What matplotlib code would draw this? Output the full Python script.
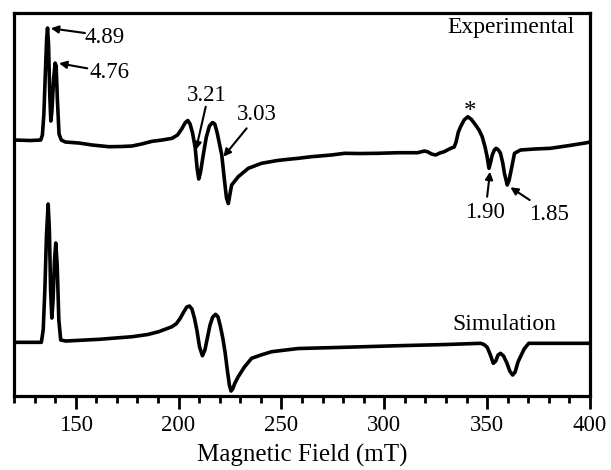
import matplotlib
matplotlib.use("Agg")
import matplotlib.pyplot as plt
from matplotlib.ticker import MultipleLocator

plt.rcParams['font.family'] = ['Liberation Serif', 'DejaVu Serif']

# Experimental spectrum (field in mT, intensity in arbitrary units)
exp_field = [120, 128, 133.0, 133.8, 134.5, 135.3, 135.9, 136.3, 136.8, 137.4, 137.9, 138.4,
             139.3, 140.0, 140.5, 141.1, 141.9, 143.0, 145, 151.6, 158, 166.2, 172, 177.4,
             182, 187.1, 192, 196.8, 199.5, 201.5, 203.3, 204.5, 205.6, 206.8, 208.1, 209.0,
             209.8, 210.7, 212.0, 213.5, 215.0, 216.5, 217.6, 218.8, 221.0, 222.3, 223.3,
             224.2, 225.0, 225.8, 229.0, 233.9, 240.3, 248, 253.2, 258.1, 264.5, 274.1,
             280.7, 288, 296.8, 306.5, 312.9, 316.2, 319.5, 321.0, 323.0, 325.0, 327.0,
             329.1, 332.3, 334.0, 334.9, 336.0, 337.1, 338.8, 340.6, 342.4, 344.4, 346.2,
             347.6, 349.0, 350.0, 350.9, 351.7, 352.5, 353.5, 354.4, 355.5, 356.5, 357.6,
             358.4, 359.8, 360.7, 361.7, 363.3, 366.2, 373, 380.7, 390, 398.5, 400]
exp_signal = [256, 255.5, 256, 261, 281, 326, 358, 368, 351, 301, 275, 284,
              318, 333, 330, 296, 262, 256, 254, 253, 251, 249.3, 249.5, 250,
              252, 254.7, 256, 257.7, 261, 267, 273.5, 275.5, 272, 263, 248, 228,
              217, 224, 241, 259, 270, 273.5, 272, 263, 241, 216, 198,
              192.5, 202, 211, 219.3, 227.7, 232.7, 235.5, 236.7, 237.7, 239.3, 241,
              242.7, 242.5, 242.7, 243.3, 243.3, 243.3, 245, 244.3, 242, 241, 243,
              244.3, 247.7, 249, 254, 264, 269.3, 276, 279.3, 276.5, 271, 265.5,
              259.3, 249, 239.3, 227.7, 234, 241, 246, 247.7, 246, 242.7, 233,
              222.7, 211, 216, 226, 242.7, 246, 247, 247.7, 250.5, 253.3, 254]

# Simulated spectrum
sim_field = [120, 133.3, 134.2, 135.0, 135.8, 136.6, 137.2, 137.8, 138.4, 139.0, 139.7, 140.3,
             141.0, 141.8, 142.7, 145.2, 161.3, 177.4, 185, 190.3, 196.8, 199, 200.8, 202.5,
             204, 205.3, 206.5, 207.7, 208.9, 210.2, 211.6, 212.8, 214.0, 215.3, 216.6, 218.0,
             219.2, 220.3, 221.5, 222.6, 223.7, 224.7, 225.5, 226.3, 227.3, 229.0, 232, 235.5,
             240, 245.2, 252, 258.1, 280, 306.5, 330, 346.8, 348.5, 350.1, 351.6, 353.0,
             354.2, 355.3, 356.5, 358, 359.6, 361.0, 362.4, 363.6, 365.0, 366.2, 368, 370.2, 400]
sim_signal = [53.7, 53.7, 66, 106, 161, 192, 166, 106, 78, 96, 136, 153,
              131, 76, 56, 55, 56.7, 59.3, 61.5, 64.3, 69.3, 72.5, 77.7, 84,
              89, 90, 87, 78, 66, 49, 40.3, 46, 58, 71, 79, 81.7,
              79, 70, 58, 44, 26, 11, 5, 7, 12.5, 19.3, 29, 37.7,
              41, 44.3, 46, 47.5, 48.7, 50.3, 51.5, 52.7, 51.5, 48.5, 41, 32.7,
              35, 41, 42.7, 40, 33, 25, 21, 24, 34, 39.3, 47, 52.7, 52.7]

x_ticks = [150, 200, 250, 300, 350, 400]
g_labels = ["4.89", "4.76", "3.21", "3.03", "1.90", "1.85"]

fig = plt.figure(figsize=(6.11, 4.70), dpi=100)
ax = fig.add_axes([0.0229, 0.1574, 0.9427, 0.8149])

lw = 2.6
ax.plot(exp_field, exp_signal, color='black', lw=lw, solid_joinstyle='round')
ax.plot(sim_field, sim_signal, color='black', lw=lw, solid_joinstyle='round')

ax.set_xlim(120, 400)
ax.set_ylim(0, 383)
ax.set_yticks([])
ax.set_xticks(x_ticks)
ax.xaxis.set_minor_locator(MultipleLocator(10))
ax.tick_params(axis='x', which='major', direction='out', length=9, width=2.0,
               labelsize=16.5, pad=5)
ax.tick_params(axis='x', which='minor', direction='out', length=5, width=2.0)
for sp in ax.spines.values():
    sp.set_linewidth(2.3)
ax.set_xlabel("Magnetic Field (mT)", fontsize=18, labelpad=5)

tk = dict(fontsize=16.5, color='black')
ap = dict(arrowstyle='-|>', color='black', lw=1.5, mutation_scale=11,
          shrinkA=0, shrinkB=0)

# g-value annotations
ax.text(154.5, 359, g_labels[0], ha='left', va='center', **tk)
ax.annotate('', xy=(137.9, 367.7), xytext=(154.5, 363), arrowprops=ap)
ax.text(156.9, 323.3, g_labels[1], ha='left', va='center', **tk)
ax.annotate('', xy=(141.9, 332.7), xytext=(155.6, 327.7), arrowprops=ap)
ax.text(213.8, 301, g_labels[2], ha='center', va='center', **tk)
ax.annotate('', xy=(208.4, 246), xytext=(213.2, 289.3), arrowprops=ap)
ax.text(237.8, 282, g_labels[3], ha='center', va='center', **tk)
ax.annotate('', xy=(221.8, 239.3), xytext=(233.1, 267.7), arrowprops=ap)
ax.text(341.8, 284, '*', ha='center', va='center', fontsize=18)
ax.text(348.8, 183.3, g_labels[4], ha='center', va='center', **tk)
ax.annotate('', xy=(351.4, 224.3), xytext=(350.0, 199.3), arrowprops=ap)
ax.text(380.3, 182, g_labels[5], ha='center', va='center', **tk)
ax.annotate('', xy=(361.3, 208.7), xytext=(370.7, 196), arrowprops=ap)

ax.text(392.7, 369, 'Experimental', ha='right', va='center', fontsize=17)
ax.text(358.5, 72, 'Simulation', ha='center', va='center', fontsize=17)

fig.savefig('out.png', dpi=100)
